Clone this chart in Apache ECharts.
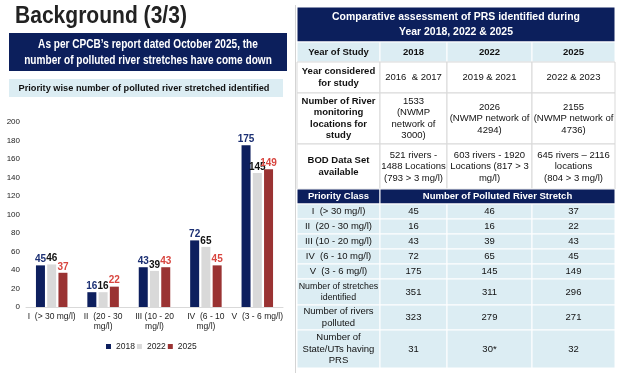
<!DOCTYPE html>
<html><head><meta charset="utf-8">
<script src="https://cdn.jsdelivr.net/npm/echarts@6/dist/echarts.min.js"></script>
<style>html,body{margin:0;padding:0;background:#fff;}#c{width:618px;height:376px;}</style>
</head><body><div id="c"></div>
<script>
// ---- data ----
const categories = ['I  (> 30 mg/l)', 'II  (20 - 30\nmg/l)', 'III (10 - 20\nmg/l)', 'IV  (6 - 10\nmg/l)', 'V  (3 - 6 mg/l)'];
const tableClasses = ['I  (> 30 mg/l)', 'II  (20 - 30 mg/l)', 'III (10 - 20 mg/l)', 'IV  (6 - 10 mg/l)', 'V  (3 - 6 mg/l)'];
const years = ['2018', '2022', '2025'];
const values2018 = [45, 16, 43, 72, 175];
const values2022 = [46, 16, 39, 65, 145];
const values2025 = [37, 22, 43, 45, 149];
const yTicks = [0, 20, 40, 60, 80, 100, 120, 140, 160, 180, 200];

const slideTitle = 'Background (3/3)';
const bannerText = 'As per CPCB\u2019s report dated October 2025, the\nnumber of polluted river stretches have come down';
const chartTitle = 'Priority wise number of polluted river stretched identified';
const tableTitle = 'Comparative assessment of PRS identified during\nYear 2018, 2022 & 2025';
const yearsConsidered = ['2016  & 2017', '2019 & 2021', '2022 & 2023'];
const monitoring = ['1533\n(NWMP\nnetwork of\n3000)', '2026\n(NWMP network of\n4294)', '2155\n(NWMP network of\n4736)'];
const bodData = ['521 rivers -\n1488 Locations\n(793 > 3 mg/l)', '603 rivers - 1920\nLocations (817 > 3\nmg/l)', '645 rivers \u2013 2116\nlocations\n(804 > 3 mg/l)'];
const stretches = ['351', '311', '296'];
const riversPolluted = ['323', '279', '271'];
const statesPRS = ['31', '30*', '32'];

// ---- styles ----
const FONT = 'Arial, "Liberation Sans", sans-serif';
const NAVY = '#0c1f5c';
const LIGHT = '#dcedf3';
const barColors = ['#0d1f5e', '#d9d9d9', '#9a3333'];
const labelColors = ['#1b2f73', '#111111', '#d8453f'];

// ---- table layout ----
const colX = [297, 380, 447, 532, 615];
const tableRows = [
  { h: 35, bg: NAVY, cells: [{ t: tableTitle, span: 4, bold: true, color: '#fff', size: 11, sx: 0.95 }] },
  { h: 20, bg: LIGHT, cells: [{ t: 'Year of Study', bold: true }].concat(years.map(y => ({ t: y, bold: true }))) },
  { h: 31, bg: '#fff', cells: [{ t: 'Year considered\nfor study', bold: true }].concat(yearsConsidered.map(t => ({ t }))) },
  { h: 51, bg: '#fff', cells: [{ t: 'Number of River\nmonitoring\nlocations for\nstudy', bold: true }].concat(monitoring.map(t => ({ t }))) },
  { h: 45, bg: '#fff', cells: [{ t: 'BOD Data Set\navailable', bold: true }].concat(bodData.map(t => ({ t }))) },
  { h: 15, bg: NAVY, cells: [{ t: 'Priority Class', bold: true, color: '#fff' }, { t: 'Number of Polluted River Stretch', span: 3, bold: true, color: '#fff' }] }
];
tableClasses.forEach((c, i) => {
  tableRows.push({ h: 15, bg: LIGHT, cells: [{ t: c }].concat([values2018[i], values2022[i], values2025[i]].map(v => ({ t: String(v) }))) });
});
tableRows.push({ h: 26, bg: LIGHT, cells: [{ t: 'Number of stretches\nidentified', sx: 0.93 }].concat(stretches.map(t => ({ t }))) });
tableRows.push({ h: 25, bg: LIGHT, cells: [{ t: 'Number of rivers\npolluted' }].concat(riversPolluted.map(t => ({ t }))) });
tableRows.push({ h: 38, bg: LIGHT, cells: [{ t: 'Number of\nState/UTs having\nPRS' }].concat(statesPRS.map(t => ({ t }))) });

const graphics = [];
// slide title
graphics.push({ type: 'text', x: 15, y: 17, scaleX: 0.915, style: { text: slideTitle, font: 'bold 23px ' + FONT, fill: '#222', align: 'left', verticalAlign: 'middle' } });
// banner
graphics.push({ type: 'rect', shape: { x: 9, y: 33, width: 278, height: 38 }, style: { fill: NAVY } });
graphics.push({ type: 'text', x: 148, y: 53, scaleX: 0.84, style: { text: bannerText, font: 'bold 12px ' + FONT, fill: '#fff', align: 'center', verticalAlign: 'middle', lineHeight: 16 } });
// chart subtitle
graphics.push({ type: 'rect', shape: { x: 9, y: 79, width: 274, height: 18 }, style: { fill: LIGHT } });
graphics.push({ type: 'text', x: 144, y: 88, scaleX: 0.97, style: { text: chartTitle, font: 'bold 9.5px ' + FONT, fill: '#111', align: 'center', verticalAlign: 'middle' } });
// separator left of table
graphics.push({ type: 'line', shape: { x1: 295.5, y1: 5, x2: 295.5, y2: 373 }, style: { stroke: '#d4d4d4', lineWidth: 1 } });

let y = 7;
tableRows.forEach((row) => {
  let ci = 0;
  row.cells.forEach((cell) => {
    const span = cell.span || 1;
    const x0 = colX[ci], x1 = colX[ci + span];
    graphics.push({ type: 'rect', shape: { x: x0, y: y, width: x1 - x0, height: row.h },
      style: { fill: row.bg, stroke: row.bg === '#fff' ? '#d9d9d9' : '#ffffff', lineWidth: 1 } });
    graphics.push({ type: 'text', x: (x0 + x1) / 2, y: y + row.h / 2, scaleX: cell.sx || 1,
      style: { text: cell.t, font: (cell.bold ? 'bold ' : '') + (cell.size || 9.5) + 'px ' + FONT,
        fill: cell.color || '#111', align: 'center', verticalAlign: 'middle', lineHeight: cell.size ? 15 : 11.5 } });
    ci += span;
  });
  y += row.h;
});

const seriesData = [values2018, values2022, values2025];
const chart = echarts.init(document.getElementById('c'), null, { renderer: 'canvas' });
chart.setOption({
  animation: false,
  textStyle: { fontFamily: FONT },
  grid: { left: 26, right: 335, top: 122, bottom: 69, containLabel: false },
  legend: {
    data: years, left: 101, top: 337, icon: 'rect', itemWidth: 5, itemHeight: 5, itemGap: 2,
    textStyle: { fontSize: 8.5, color: '#222', fontFamily: FONT }
  },
  xAxis: {
    type: 'category', data: categories,
    axisTick: { show: false },
    axisLine: { lineStyle: { color: '#d9d9d9' } },
    axisLabel: { interval: 0, fontSize: 8.5, color: '#222', lineHeight: 10, margin: 5, fontFamily: FONT }
  },
  yAxis: {
    type: 'value', min: yTicks[0], max: yTicks[yTicks.length - 1], interval: 20,
    splitLine: { show: false }, axisLine: { show: false }, axisTick: { show: false },
    axisLabel: { fontSize: 8, color: '#222', margin: 6, fontFamily: FONT }
  },
  series: years.map((yr, i) => ({
    name: yr, type: 'bar', data: seriesData[i], barWidth: 9, barGap: '25%',
    itemStyle: { color: barColors[i] },
    label: { show: true, position: 'top', distance: 1, fontSize: 10, fontWeight: 'bold', color: labelColors[i], fontFamily: FONT }
  })),
  graphic: graphics
});
</script>
</body></html>
